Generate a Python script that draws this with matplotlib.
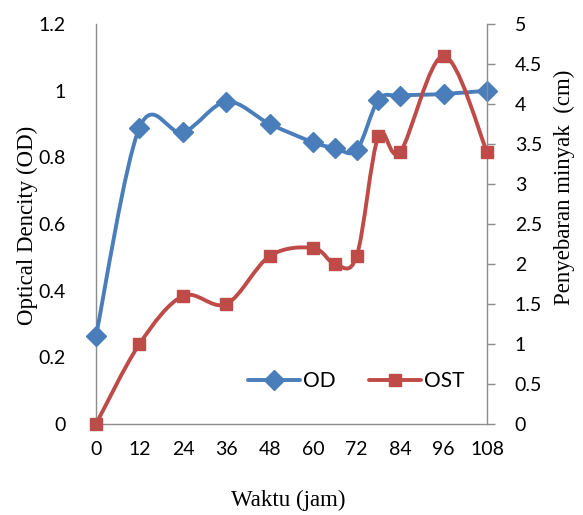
import numpy as np
import matplotlib
matplotlib.use("Agg")
import matplotlib.pyplot as plt
from matplotlib.path import Path
from matplotlib.patches import PathPatch
from matplotlib.lines import Line2D

# ---- data ----
hours = [0, 12, 24, 36, 48, 60, 66, 72, 78, 84, 96, 108]
od = [0.265, 0.889, 0.875, 0.967, 0.90, 0.845, 0.828, 0.822, 0.972, 0.985, 0.99, 1.0]
ost = [0.0, 1.0, 1.6, 1.5, 2.1, 2.2, 2.0, 2.1, 3.6, 3.4, 4.6, 3.4]
xticks = [0, 12, 24, 36, 48, 60, 72, 84, 96, 108]
left_ticks = [0, 0.2, 0.4, 0.6, 0.8, 1.0, 1.2]
left_labels = ["0", "0.2", "0.4", "0.6", "0.8", "1", "1.2"]
right_ticks = [0, 0.5, 1, 1.5, 2, 2.5, 3, 3.5, 4, 4.5, 5]
right_labels = ["0", "0.5", "1", "1.5", "2", "2.5", "3", "3.5", "4", "4.5", "5"]

BLUE = "#4a7ebb"
RED = "#be4b48"
GRAY = "#8c8c8c"
TICKFONT = "Lato"
SERIF = "Liberation Serif"

W, H = 583, 515
fig = plt.figure(figsize=(W / 100, H / 100), dpi=100)
ax = fig.add_axes([0.1647, 0.1767, 0.6707, 0.7767])
ax2 = ax.twinx()

ax.set_xlim(0, 108)
ax.set_ylim(0, 1.2)
ax2.set_ylim(0, 5)

for a in (ax, ax2):
    a.set_facecolor("none")
    a.spines["top"].set_visible(False)
    for s in ("left", "right", "bottom"):
        a.spines[s].set_color(GRAY)
        a.spines[s].set_linewidth(1.0)
ax.spines["right"].set_visible(False)
ax2.spines["left"].set_visible(False)
ax2.spines["bottom"].set_visible(False)

ax.set_xticks(xticks)
ax.set_xticklabels([str(v) for v in xticks], fontsize=14, fontfamily=TICKFONT)
ax.set_yticks(left_ticks)
ax.set_yticklabels(left_labels, fontsize=14, fontfamily=TICKFONT)
ax.tick_params(axis="x", length=0, pad=12)
ax.tick_params(axis="y", length=0, pad=22)
ax2.set_yticks(right_ticks)
ax2.set_yticklabels(right_labels, fontsize=14, fontfamily=TICKFONT)
ax2.tick_params(axis="y", length=6, width=1, color=GRAY, pad=14, direction="out")

# axis titles placed where the reference has them
fig.text(288 / W, 1 - 500 / H, "Waktu (jam)", fontsize=16.5, fontfamily=SERIF,
         ha="center", va="center")
fig.text(27 / W, 1 - 225 / H, "Optical Dencity (OD)", fontsize=16.5, fontfamily=SERIF,
         ha="center", va="center", rotation=90)
fig.text(564 / W, 1 - 187 / H, "Penyebaran minyak  (cm)", fontsize=16.5, fontfamily=SERIF,
         ha="center", va="center", rotation=90)


def smooth_path(a, xs, ys):
    """Excel-like smoothed line: cubic Bezier through points (control pts in display space)."""
    fig.canvas.draw()
    pts = a.transData.transform(np.column_stack([xs, ys]))
    n = len(pts)
    verts = [pts[0]]
    codes = [Path.MOVETO]
    for i in range(n - 1):
        p0 = pts[i - 1] if i > 0 else pts[i]
        p1 = pts[i]
        p2 = pts[i + 1]
        p3 = pts[i + 2] if i + 2 < n else pts[i + 1]
        c1 = p1 + (p2 - p0) / 6.0
        c2 = p2 - (p3 - p1) / 6.0
        verts += [c1, c2, p2]
        codes += [Path.CURVE4] * 3
    verts = a.transData.inverted().transform(np.array(verts))
    return Path(verts, codes)


ax.add_patch(PathPatch(smooth_path(ax, hours, od), facecolor="none",
                       edgecolor=BLUE, lw=2.8, capstyle="round", joinstyle="round", zorder=3))
ax.plot(hours, od, linestyle="none", marker="D", markersize=10, color=BLUE,
        clip_on=False, zorder=4)

ax2.add_patch(PathPatch(smooth_path(ax2, hours, ost), facecolor="none",
                        edgecolor=RED, lw=2.8, capstyle="round", joinstyle="round", zorder=3))
ax2.plot(hours, ost, linestyle="none", marker="s", markersize=8.5, color=RED,
         clip_on=False, zorder=4)

handles = [
    Line2D([], [], color=BLUE, lw=2.8, marker="D", markersize=10, solid_capstyle="round"),
    Line2D([], [], color=RED, lw=2.8, marker="s", markersize=8.5, solid_capstyle="round"),
]
leg = ax2.legend(handles, ["OD", "OST"], loc="center", bbox_to_anchor=(0.665, 0.107),
                 ncol=2, frameon=False, handlelength=2.5, handletextpad=0.15,
                 columnspacing=1.6, prop={"family": TICKFONT, "size": 15})

fig.savefig("out.png", dpi=100)
